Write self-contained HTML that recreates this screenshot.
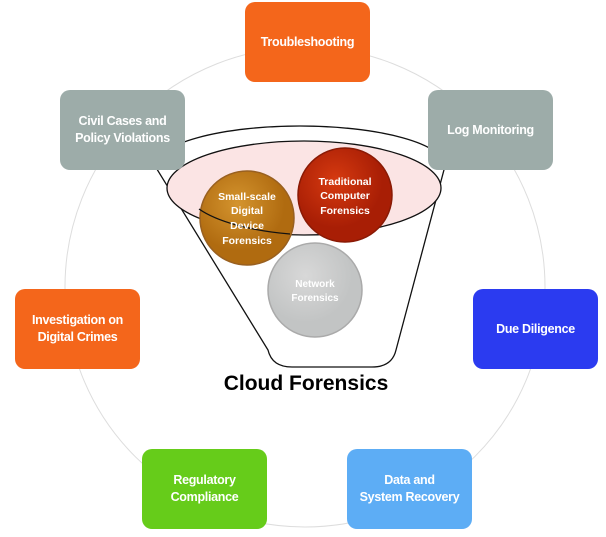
<!DOCTYPE html>
<html><head><meta charset="utf-8"><style>
body{margin:0;background:#fff;width:606px;height:537px;overflow:hidden;position:relative;font-family:"Liberation Sans",sans-serif}
.b{position:absolute;width:125px;height:80px;border-radius:10px;color:#fff;font-weight:bold;font-size:12.5px;display:flex;align-items:center;justify-content:center;text-align:center;line-height:17px;letter-spacing:-0.3px}
.o{background:#F4661B}.g{background:#9DACA9}
svg{position:absolute;left:0;top:0}
</style></head><body>
<svg width="606" height="537">
<circle cx="305" cy="287" r="240" fill="none" stroke="#ddd" stroke-width="1"/>
<path d="M155 166 A145 40 0 0 1 445 166 L396 350 Q392 367 372 367 L292 367 Q272 367 268 350 Z" fill="#fff" stroke="#111" stroke-width="1.3"/>
<ellipse cx="304" cy="188" rx="137" ry="47" fill="#fbe4e4" stroke="#111" stroke-width="1.3"/>
<defs>
<radialGradient id="r1" cx="40%" cy="35%"><stop offset="0" stop-color="#d63a10"/><stop offset="1" stop-color="#a81e05"/></radialGradient>
<radialGradient id="r2" cx="40%" cy="35%"><stop offset="0" stop-color="#d4942e"/><stop offset="1" stop-color="#b06b10"/></radialGradient>
<radialGradient id="r3" cx="40%" cy="35%"><stop offset="0" stop-color="#d8d8d8"/><stop offset="1" stop-color="#c2c4c4"/></radialGradient>
</defs>
<circle cx="345" cy="195" r="47" fill="url(#r1)" stroke="#8a1a05" stroke-width="1.5"/>
<circle cx="247" cy="218" r="47" fill="url(#r2)" stroke="#996020" stroke-width="1.5"/>
<path d="M199 209 A137 47 0 0 0 290 234" fill="none" stroke="#111" stroke-width="1.3"/>
<circle cx="315" cy="290" r="47" fill="url(#r3)" stroke="#aaa" stroke-width="1.5"/>
<g font-family="Liberation Sans,sans-serif" font-weight="bold" fill="#fff" font-size="10.5" text-anchor="middle">
<text x="345" y="185">Traditional</text><text x="345" y="199">Computer</text><text x="345" y="214">Forensics</text>
<text x="247" y="200">Small-scale</text><text x="247" y="214">Digital</text><text x="247" y="229">Device</text><text x="247" y="244">Forensics</text>
<text x="315" y="287" font-size="10">Network</text><text x="315" y="301" font-size="10">Forensics</text>
</g>
<text x="306" y="390" text-anchor="middle" font-family="Liberation Sans,sans-serif" font-weight="bold" font-size="21" fill="#000">Cloud Forensics</text>
</svg>
<div class="b o" style="left:245px;top:2px">Troubleshooting</div>
<div class="b g" style="left:428px;top:90px">Log Monitoring</div>
<div class="b g" style="left:60px;top:90px">Civil Cases and<br>Policy Violations</div>
<div class="b" style="left:473px;top:289px;background:#2B3BF0">Due Diligence</div>
<div class="b o" style="left:15px;top:289px">Investigation on<br>Digital Crimes</div>
<div class="b" style="left:142px;top:449px;background:#66CC1A">Regulatory<br>Compliance</div>
<div class="b" style="left:347px;top:449px;background:#5DADF5">Data and<br>System Recovery</div>
</body></html>
